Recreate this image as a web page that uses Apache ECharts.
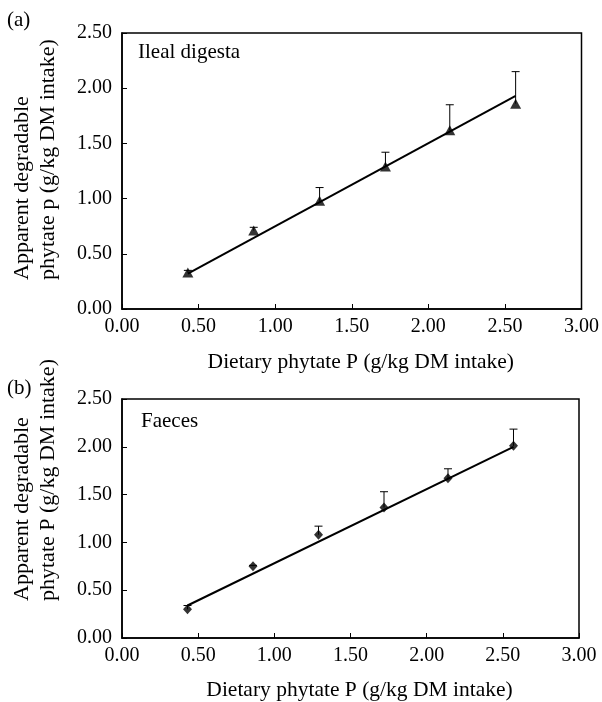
<!DOCTYPE html>
<html>
<head>
<meta charset="utf-8">
<script src="https://cdn.jsdelivr.net/npm/echarts@6/dist/echarts.min.js"></script>
<style>html,body{margin:0;padding:0;background:#fff}#c{width:602px;height:702px}</style>
</head>
<body>
<div id="c"></div>
<script>
// Data
const xVals = [0.43, 0.86, 1.29, 1.72, 2.14, 2.57];
const ilealMean = [0.33, 0.71, 0.98, 1.29, 1.62, 1.86];
const ilealSE   = [0.02, 0.03, 0.12, 0.13, 0.23, 0.29];
const ilealFit  = [[0.43, 0.32], [2.57, 1.93]];
const faecesMean = [0.30, 0.75, 1.08, 1.365, 1.67, 2.01];
const faecesSE   = [0.04, 0.01, 0.09, 0.165, 0.10, 0.175];
const faecesFit  = [[0.43, 0.34], [2.57, 2.00]];
const xTicksMax = 3, yTicksMax = 2.5;
const xTitle = 'Dietary phytate P (g/kg DM intake)';
const yTitleA = 'Apparent degradable\nphytate p (g/kg DM intake)';
const yTitleB = 'Apparent degradable\nphytate P (g/kg DM intake)';

const FONT = 'Liberation Serif';
const chart = echarts.init(document.getElementById('c'));

function pts(xs, ys, es) { return xs.map((x, i) => es ? [x, ys[i], es[i]] : [x, ys[i]]); }

function errRender(params, api) {
  const x = api.value(0), y = api.value(1), e = api.value(2);
  const p0 = api.coord([x, y]);
  const p1 = api.coord([x, y + e]);
  const st = { stroke: '#000', lineWidth: 1 };
  return { type: 'group', children: [
    { type: 'line', shape: { x1: p0[0], y1: p0[1], x2: p1[0], y2: p1[1] }, style: st },
    { type: 'line', shape: { x1: p1[0] - 4, y1: p1[1], x2: p1[0] + 4, y2: p1[1] }, style: st }
  ]};
}

function xAxisDef(gi, gap) {
  return {
    gridIndex: gi, type: 'value', min: 0, max: xTicksMax, interval: 0.5,
    name: xTitle, nameLocation: 'middle', nameGap: gap,
    nameTextStyle: { fontFamily: FONT, fontSize: 21.5, color: '#000', padding: [0, 0, 0, 18] },
    axisLine: { show: true, lineStyle: { color: '#000', width: 1.5 } },
    axisTick: { show: true, inside: true, length: 5, lineStyle: { color: '#000' } },
    axisLabel: { fontFamily: FONT, fontSize: 20, color: '#000', margin: 8, formatter: v => v.toFixed(2) },
    splitLine: { show: false }
  };
}
function yAxisDef(gi) {
  return {
    gridIndex: gi, type: 'value', min: 0, max: yTicksMax, interval: 0.5,
    axisLine: { show: true, lineStyle: { color: '#000', width: 1.5 } },
    axisTick: { show: true, inside: true, length: 5, lineStyle: { color: '#000' } },
    axisLabel: { fontFamily: FONT, fontSize: 20, color: '#000', margin: 10, formatter: v => v.toFixed(2) },
    splitLine: { show: false }
  };
}
function yTitle(text, startY) {
  return { type: 'text', x: 35, y: startY, rotation: Math.PI / 2,
    style: { text: text, font: '22px "Liberation Serif"', fill: '#000', lineHeight: 26,
             align: 'left', verticalAlign: 'middle' } };
}

chart.setOption({
  animation: false,
  backgroundColor: '#fff',
  grid: [
    { left: 122, top: 33, width: 460, height: 276, show: true, borderColor: '#000', borderWidth: 1.5, backgroundColor: 'transparent' },
    { left: 122, top: 399, width: 457, height: 243, show: true, borderColor: '#000', borderWidth: 1.5, backgroundColor: 'transparent' }
  ],
  xAxis: [xAxisDef(0, 42), xAxisDef(1, 41)],
  yAxis: [yAxisDef(0), yAxisDef(1)],
  graphic: [
    yTitle(yTitleA, 280),
    yTitle(yTitleB, 601),
    { type: 'text', left: 7, top: 10, style: { text: '(a)', font: '21px "Liberation Serif"', fill: '#000' } },
    { type: 'text', left: 7, top: 378, style: { text: '(b)', font: '21px "Liberation Serif"', fill: '#000' } },
    { type: 'text', left: 138, top: 42, style: { text: 'Ileal digesta', font: '21px "Liberation Serif"', fill: '#000' } },
    { type: 'text', left: 141, top: 411, style: { text: 'Faeces', font: '21px "Liberation Serif"', fill: '#000' } }
  ],
  series: [
    { type: 'custom', xAxisIndex: 0, yAxisIndex: 0, renderItem: errRender, data: pts(xVals, ilealMean, ilealSE), z: 1, silent: true },
    { type: 'line', xAxisIndex: 0, yAxisIndex: 0, data: ilealFit, symbol: 'none', lineStyle: { color: '#000', width: 2 }, z: 2 },
    { type: 'scatter', xAxisIndex: 0, yAxisIndex: 0, data: pts(xVals, ilealMean), symbol: 'triangle', symbolSize: [11, 10], itemStyle: { color: '#000' }, z: 3 },
    { type: 'custom', xAxisIndex: 1, yAxisIndex: 1, renderItem: errRender, data: pts(xVals, faecesMean, faecesSE), z: 1, silent: true },
    { type: 'line', xAxisIndex: 1, yAxisIndex: 1, data: faecesFit, symbol: 'none', lineStyle: { color: '#000', width: 2 }, z: 2 },
    { type: 'scatter', xAxisIndex: 1, yAxisIndex: 1, data: pts(xVals, faecesMean), symbol: 'diamond', symbolSize: [9, 10], itemStyle: { color: '#000' }, z: 3 }
  ]
});
</script>
</body>
</html>
